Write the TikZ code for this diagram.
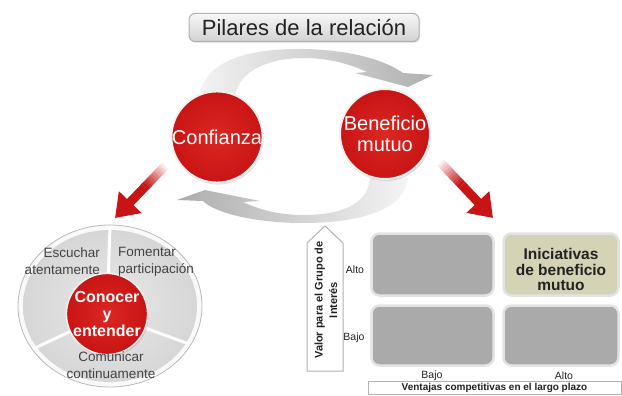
\documentclass[tikz,border=0pt]{standalone}
\usepackage{fontspec}
\setmainfont{Liberation Sans}
\usetikzlibrary{arrows.meta,calc,shadows}

\definecolor{rojo}{RGB}{200,20,20}
\definecolor{rojoclaro}{RGB}{220,40,34}
\definecolor{oliva}{RGB}{212,211,182}
\definecolor{gris}{RGB}{170,170,170}
\definecolor{texto}{RGB}{34,34,34}

\tikzset{
  pilar/.style={circle, inner sep=0pt, minimum size=90pt, draw=gray!12, line width=2pt,
    inner color=rojoclaro, outer color=rojo, text=white, align=center,
    font=\fontsize{20}{21}\selectfont,
    drop shadow={opacity=0.25, shadow xshift=1pt, shadow yshift=-2pt}},
  celda/.style={rounded corners=8pt, draw=gray!22, line width=2.5pt, fill=gris, inner sep=0pt},
  flecharoja/.style={draw=rojo, line width=9pt, -{Triangle[width=30pt,length=22pt]}},
  colaroja/.style={draw=rojo, line width=9pt},
  etiqueta/.style={font=\fontsize{10.5}{12}\selectfont, text=texto},
  sector/.style={inner sep=0pt, font=\fontsize{13.5}{17}\selectfont, text=texto!85}
}

\begin{document}
\begin{tikzpicture}[x=1pt,y=-1pt]
    \useasboundingbox (0,0) rectangle (622,396);

    \def\pcx{110}
    \def\pcy{306}

    \node[draw=gray!60, line width=1pt, rounded corners=6pt, top color=gray!6, bottom color=gray!35,
      minimum width=230pt, minimum height=28pt, font=\fontsize{22}{24}\selectfont, text=texto,
      drop shadow={opacity=0.2, shadow xshift=1pt, shadow yshift=-1.5pt}] (titulo) at (304,27.5) {Pilares de la relación};

    \shade[left color=gray!10, right color=gray!62] (200,95) .. controls (205,60) and (250,48) .. (305,49)
      .. controls (350,50) and (385,60) .. (403,73) -- (433,75) -- (408,87) -- (355,73) -- (367,72)
      .. controls (345,62) and (325,58) .. (303,58) .. controls (270,58) and (240,70) .. (235,95) -- cycle;
    \shade[left color=gray!65, right color=gray!8] (408,178) .. controls (405,210) and (360,223) .. (303,223)
      .. controls (255,223) and (215,213) .. (203,201) -- (177,200) -- (205,190) -- (260,201) -- (243,202)
      .. controls (260,210) and (280,215) .. (303,215) .. controls (340,215) and (368,205) .. (370,178) -- cycle;

    \node[pilar] (confianza) at (217,137) {Confianza};
    \node[pilar] (beneficio) at (385,134) {Beneficio\\mutuo};

    \coordinate (colaizq) at (165,166);
    \coordinate (puntaizq) at (115,218);
    \coordinate (colader) at (441,163);
    \coordinate (puntader) at (493,218);
    \coordinate (medioizq) at ($(colaizq)!0.4!(puntaizq)$);
    \coordinate (mediodER) at ($(colader)!0.4!(puntader)$);
    \draw[flecharoja] (medioizq) -- (puntaizq);
    \draw[flecharoja] (mediodER) -- (puntader);
    \foreach \i in {1,...,10} {
      \draw[colaroja, opacity=\i/10] ($(colaizq)!{(\i-1)/10}!(medioizq)$) -- ($(colaizq)!{\i/10}!(medioizq)$);
      \draw[colaroja, opacity=\i/10] ($(colader)!{(\i-1)/10}!(mediodER)$) -- ($(colader)!{\i/10}!(mediodER)$);
    }

    \draw[gray!55, fill=gray!5, line width=0.8pt] (\pcx,\pcy) ellipse [x radius=92, y radius=81];
    \shade[inner color=gray!18, outer color=gray!32] (\pcx,\pcy) ellipse [x radius=87, y radius=76];
    \coordinate (centro) at (107,314);
    \coordinate (borde1) at (110,227);
    \coordinate (borde2) at (33,349);
    \coordinate (borde3) at (189,344);
    \foreach \b in {borde1,borde2,borde3}
      \draw[white, line width=3pt] (centro) -- (\b);
    \node[pilar, minimum size=76pt, line width=1.5pt, font=\bfseries\fontsize{16}{17}\selectfont] (conocer) at (centro) {Conocer\\y\\entender};
    \node[sector, align=right, anchor=east] (escuchar) at (100,261.5) {Escuchar\\atentamente};
    \node[sector, align=left, anchor=west] (fomentar) at (118,261.5) {Fomentar\\participación};
    \node[sector, align=center] (comunicar) at (111,365) {Comunicar\\continuamente};

    \node[celda, minimum width=122pt, minimum height=62pt] (c11) at (432.5,264.5) {};
    \node[celda, minimum width=115pt, minimum height=62pt, fill=oliva] (c12) at (561,264.5) {};
    \node[celda, minimum width=122pt, minimum height=60pt] (c21) at (432.5,335.5) {};
    \node[celda, minimum width=115pt, minimum height=60pt] (c22) at (561,335.5) {};
    \node[align=center, font=\bfseries\fontsize{15.5}{15.5}\selectfont, text=texto] (iniciativas) at ([yshift=-5pt]c12.center) {Iniciativas\\de beneficio\\mutuo};

    \node[etiqueta] (altoy) at (355,270) {Alto};
    \node[etiqueta] (bajoy) at (354,338) {Bajo};
    \node[etiqueta] (bajox) at (432,376) {Bajo};
    \node[etiqueta] (altox) at (564,376) {Alto};
    \node[draw=gray!60, line width=0.8pt, fill=white, minimum width=253pt, minimum height=13pt, inner sep=0pt,
      font=\bfseries\fontsize{10}{11}\selectfont, text=texto] (ventajas) at (494.5,388) {Ventajas competitivas en el largo plazo};

    \draw[gray!60, line width=1pt, fill=white] (307,371) -- (307,243) -- (325,226) -- (343,243) -- (343,371) -- cycle;
    \node[rotate=90, align=center, font=\bfseries\fontsize{11}{14.5}\selectfont, text=texto] (valor) at (326,300) {Valor para el Grupo de\\Interés};

\end{tikzpicture}
\end{document}
